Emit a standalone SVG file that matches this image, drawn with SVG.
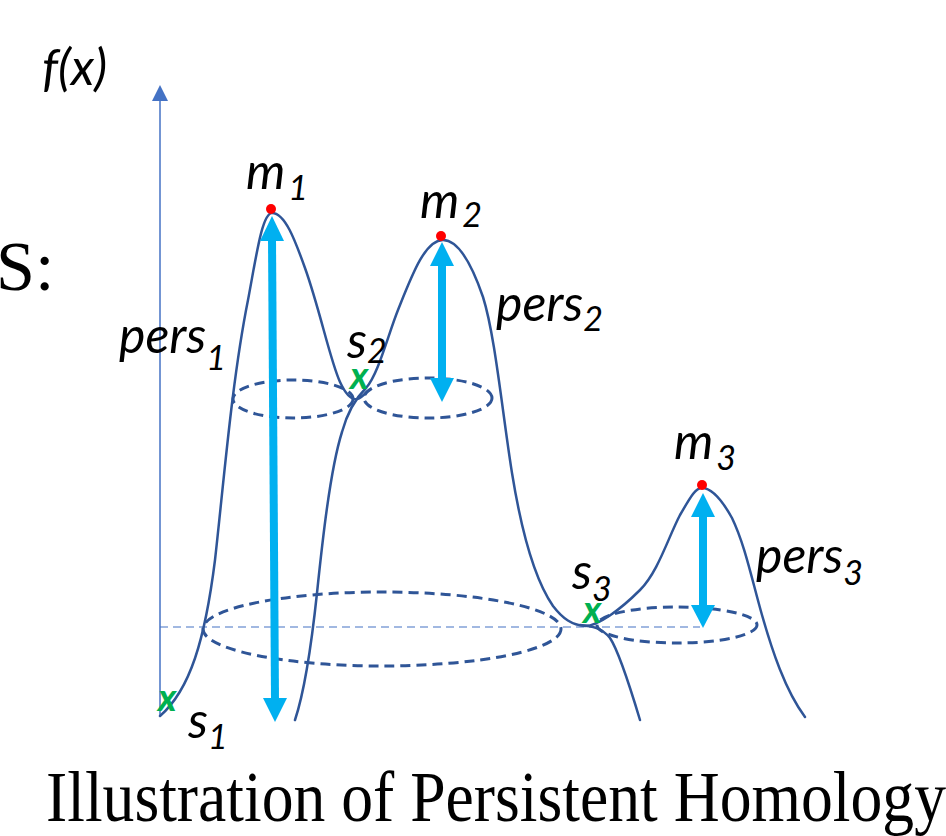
<svg xmlns="http://www.w3.org/2000/svg" width="946" height="836" viewBox="0 0 946 836">
<style>
.curve{fill:none;stroke:#2F5597;stroke-width:2.5;stroke-linecap:round}
.ell{fill:none;stroke:#2F5597;stroke-width:3;stroke-dasharray:10 6}
.hline{stroke:#4472C4;stroke-width:1.2;stroke-dasharray:8 5}
.axis{stroke:#4472C4;stroke-width:1.5}
.shaft{stroke:#00B0F0;stroke-width:8}
.head{fill:#00B0F0}
.dot{fill:#FF0000}
.lbl{font-family:Lato,"Open Sans",sans-serif;font-style:italic;font-size:50px;fill:#000}
.sub{font-size:34px}
.gx{font-family:Lato,"Open Sans",sans-serif;font-style:italic;font-weight:bold;font-size:38px;fill:#00B050}
.serif{font-family:"Liberation Serif","Times New Roman",serif;fill:#000}
</style>
<rect width="946" height="836" fill="#fff"/>
<g id="axis">
<line class="axis" x1="160" y1="716" x2="160" y2="98"/>
<polygon fill="#4472C4" points="160,85 152,101 168,101"/>
<text class="lbl" x="42" y="85">f(x)</text>
</g>
<g id="connectors">
<line class="hline" x1="160" y1="627" x2="700" y2="627"/>
<ellipse class="ell" cx="293" cy="399" rx="60" ry="19"/>
<ellipse class="ell" cx="428" cy="398" rx="64" ry="20"/>
<ellipse class="ell" cx="382" cy="629" rx="179" ry="37"/>
<ellipse class="ell" cx="677" cy="625" rx="80" ry="18"/>
<path class="curve" d="M160,716 C190,690 205,640 215,560 C224,480 232,380 248,300 C256,258 262,213 272,213 C285,213 295,240 305,268 C320,310 330,360 340,382 C346,395 352,400 357,399 C361,398 364,395 368,391"/>
<path class="curve" d="M295,720 C305,690 312,640 317,593 C322,545 330,470 342,432 C348,410 356,398 366,388 C378,375 388,335 398,310 C412,275 425,240 443,240 C458,240 472,265 483,297 C495,335 502,410 512,473 C522,535 535,580 553,606 C563,619 572,625 585,626 C598,626 620,610 640,590 C658,572 668,538 680,515 C690,498 695,488 702,488 C712,488 722,500 732,518 C745,545 752,580 762,615 C772,650 785,690 805,717"/>
<path class="curve" d="M580,625 C592,626 602,628 610,638 C618,650 628,680 640,720"/>
</g>
<g id="pers1">
<line class="shaft" x1="272" y1="238" x2="275" y2="700"/>
<polygon class="head" points="272,216 260,241 284,241"/>
<polygon class="head" points="275,722 263,698 287,698"/>
<text class="lbl" x="119" y="353">pers<tspan class="sub" dy="17">1</tspan></text>
</g>
<g id="pers2">
<line class="shaft" x1="442" y1="262" x2="442" y2="382"/>
<polygon class="head" points="442,242 430,266 454,266"/>
<polygon class="head" points="442,402 430,378 454,378"/>
<text class="lbl" x="496" y="321">pers<tspan class="sub" dy="10">2</tspan></text>
</g>
<g id="pers3">
<line class="shaft" x1="703" y1="513" x2="703" y2="608"/>
<polygon class="head" points="703,493 691,517 715,517"/>
<polygon class="head" points="703,628 691,605 715,605"/>
<text class="lbl" x="756" y="573">pers<tspan class="sub" dy="12">3</tspan></text>
</g>
<g id="m1">
<circle class="dot" cx="271" cy="209" r="5"/>
<text class="lbl" x="246" y="189">m<tspan class="sub" dx="3" dy="11">1</tspan></text>
</g>
<g id="m2">
<circle class="dot" cx="441" cy="236" r="5"/>
<text class="lbl" x="420" y="218">m<tspan class="sub" dx="3" dy="9">2</tspan></text>
</g>
<g id="m3">
<circle class="dot" cx="702" cy="485" r="5"/>
<text class="lbl" x="674" y="459">m<tspan class="sub" dx="3" dy="11">3</tspan></text>
</g>
<g id="s1">
<text class="gx" x="158" y="711">x</text>
<text class="lbl" x="188" y="738">s<tspan class="sub" dy="11">1</tspan></text>
</g>
<g id="s2">
<text class="gx" x="350" y="389">x</text>
<text class="lbl" x="347" y="358">s<tspan class="sub" dy="5">2</tspan></text>
</g>
<g id="s3">
<text class="gx" x="583" y="623">x</text>
<text class="lbl" x="572" y="589">s<tspan class="sub" dy="12">3</tspan></text>
</g>
<text class="serif" x="-4" y="290" font-size="70">S:</text>
<text class="serif" x="46" y="821" font-size="72" textLength="900" lengthAdjust="spacingAndGlyphs">Illustration of Persistent Homology</text>
</svg>
